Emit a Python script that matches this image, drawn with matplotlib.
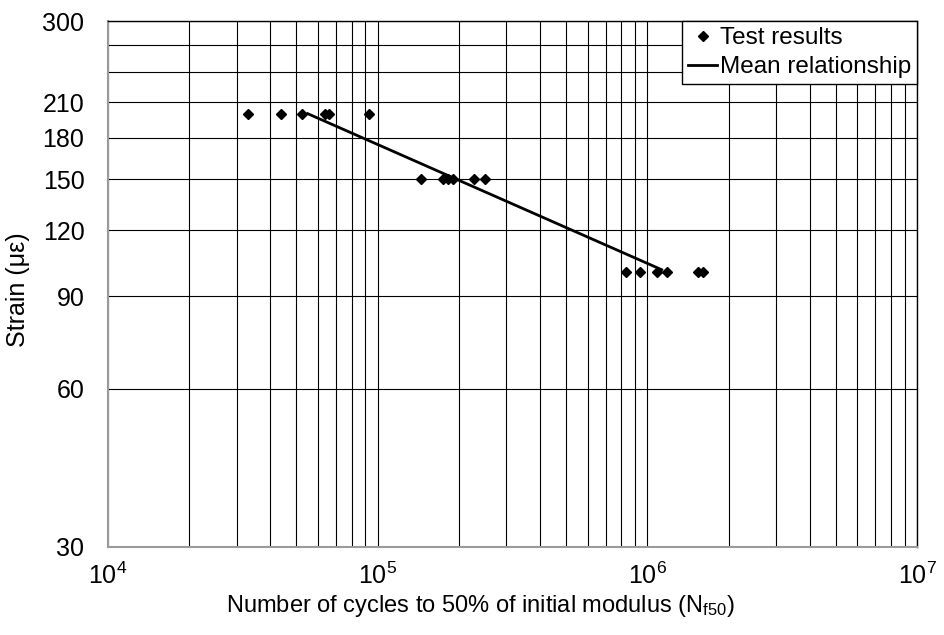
import numpy as np
import matplotlib.pyplot as plt
from matplotlib.ticker import FixedLocator, NullFormatter

plt.rcParams['font.family'] = ['Liberation Sans', 'DejaVu Sans']
plt.rcParams['mathtext.fontset'] = 'custom'
plt.rcParams['mathtext.rm'] = 'Liberation Sans'
plt.rcParams['mathtext.it'] = 'Liberation Sans'

# fatigue test results (cycles to 50% of initial modulus)
cycles_200 = [33000, 43800, 52400, 63800, 65900, 92800]
cycles_150 = [144700, 174700, 182300, 190200, 227500, 250000]
cycles_100 = [833000, 939000, 1085000, 1182000, 1540000, 1608000]
strain_levels = [200, 150, 100]

# mean power-law relationship
mean_cycles = [55000, 1130000]
mean_strain = [200, 101]

y_ticks = [30, 60, 90, 120, 150, 180, 210, 300]
y_grid = [30, 60, 90, 120, 150, 180, 210, 240, 270, 300]
x_ticks = [1e4, 1e5, 1e6, 1e7]
x_labels = ['10$^4$', '10$^5$', '10$^6$', '10$^7$']

cycles = cycles_200 + cycles_150 + cycles_100
strain = ([strain_levels[0]] * len(cycles_200) + [strain_levels[1]] * len(cycles_150)
          + [strain_levels[2]] * len(cycles_100))

fig = plt.figure(figsize=(9.44, 6.35), dpi=100)
ax = fig.add_axes([0.1144, 0.1386, 0.8570, 0.8283])
ax.set_xscale('log')
ax.set_yscale('log')
ax.set_xlim(1e4, 1e7)
ax.set_ylim(30, 300)

# grid: every decade plus 2..9 multiples on x, every 30 on y
minor_x = [m * 10 ** e for e in range(4, 7) for m in range(2, 10)]
for v in x_ticks + minor_x:
    ax.axvline(v, color='black', lw=0.8, zorder=0)
for v in y_grid:
    ax.axhline(v, color='black', lw=0.8, zorder=0)

ax.plot(cycles, strain, 'D', color='black', markersize=5.5, label='Test results', zorder=3)
ax.plot(mean_cycles, mean_strain, '-', color='black', lw=2.0, label='Mean relationship', zorder=2)

ax.xaxis.set_major_locator(FixedLocator(x_ticks))
ax.set_xticklabels(x_labels)
ax.yaxis.set_major_locator(FixedLocator(y_ticks))
ax.set_yticklabels([str(v) for v in y_ticks])
ax.yaxis.set_minor_locator(FixedLocator([]))
ax.xaxis.set_minor_locator(FixedLocator([]))
ax.xaxis.set_minor_formatter(NullFormatter())
ax.tick_params(axis='both', which='both', length=0, labelsize=18)
ax.tick_params(axis='y', pad=17)
ax.tick_params(axis='x', pad=11)

for side in ['left', 'bottom']:
    ax.spines[side].set_color('#9a9a9a')
    ax.spines[side].set_linewidth(1.5)
for side in ['top', 'right']:
    ax.spines[side].set_color('black')
    ax.spines[side].set_linewidth(1.0)

ax.set_xlabel('Number of cycles to 50% of initial modulus (N$_{\\mathrm{f50}}$)', fontsize=17)
ax.set_ylabel('Strain (με)', fontsize=18)
ax.yaxis.set_label_coords(-0.097, 0.49)
ax.xaxis.set_label_coords(0.46, -0.088)

leg = ax.legend(loc='upper right', fontsize=17.5, frameon=True, fancybox=False,
                edgecolor='black', borderaxespad=0, handlelength=1.2,
                handletextpad=0.1, borderpad=0.25, labelspacing=0.3)
leg.get_frame().set_linewidth(1.0)
leg.get_frame().set_alpha(1)

fig.savefig('out.png', dpi=100)
